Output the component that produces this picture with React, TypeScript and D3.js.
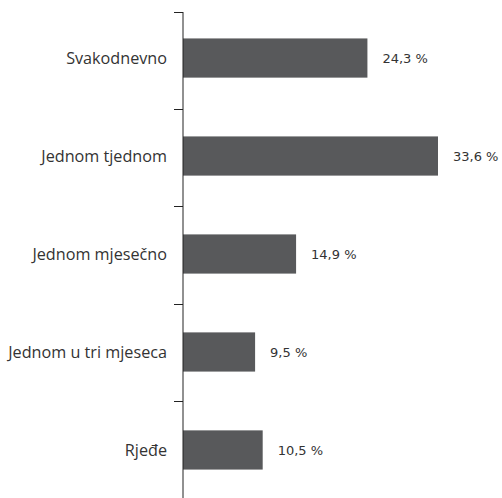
import React from "react";
import * as d3 from "d3";

const categories = ["Svakodnevno", "Jednom tjednom", "Jednom mjesečno", "Jednom u tri mjeseca", "Rjeđe"];
const values = [24.3, 33.6, 14.9, 9.5, 10.5];
const valueLabels = ["24,3 %", "33,6 %", "14,9 %", "9,5 %", "10,5 %"];

export default function App() {
  const W = 502, H = 498;
  const x0 = 183;
  const x = d3.scaleLinear().domain([0, 33.6]).range([x0, 438]);
  const y = d3.scaleBand<string>().domain(categories).range([12, 498]).paddingInner(0.6).paddingOuter(0.28);
  const ticks = d3.range(categories.length + 1).map((i) => 12 + i * (486 / categories.length));
  return (
    <svg width={W} height={H} style={{ position: "absolute", left: 0, top: 0 }}>
      {categories.map((c, i) => (
        <g key={c}>
          <rect x={x0} y={y(c)! - 1} width={x(values[i]) - x0} height={y.bandwidth()} fill="#58595b" />
          <text x={x(values[i]) + 15} y={y(c)! - 1 + y.bandwidth() / 2} dy="0.35em"
            fontFamily="DejaVu Sans" fontSize={13} fill="#333">{valueLabels[i]}</text>
          <text x={167} y={y(c)! - 1 + y.bandwidth() / 2} dy="0.35em" textAnchor="end"
            fontFamily="Open Sans" fontSize={16.2} fill="#333">{c}</text>
        </g>
      ))}
      <line x1={x0} x2={x0} y1={12} y2={498} stroke="#222" strokeWidth={1} />
      {ticks.map((t, i) => (
        <line key={i} x1={174} x2={x0} y1={Math.round(t) + 0.5} y2={Math.round(t) + 0.5} stroke="#222" strokeWidth={1} />
      ))}
    </svg>
  );
}
